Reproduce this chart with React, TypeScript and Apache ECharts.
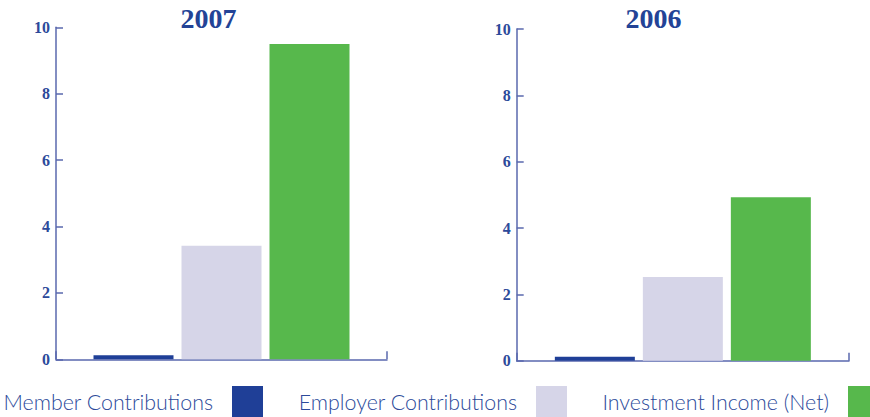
import React, { useEffect, useRef } from "react";
import * as echarts from "echarts";

const seriesNames = ["Member Contributions", "Employer Contributions", "Investment Income (Net)"];
const years = ["2007", "2006"];
const values2007 = [0.12, 3.42, 9.5];
const values2006 = [0.12, 2.52, 4.93];
const yMin = 0;
const yMax = 10;
const yInterval = 2;
const barColors = ["#1f3f97", "#d6d5e8", "#57b84c"];

const textBlue = "#2c4a9a";
const axisBlue = "#5a68ae";

export default function App() {
  const ref = useRef<HTMLDivElement>(null);
  useEffect(() => {
    if (!ref.current) return;
    const chart = echarts.init(ref.current, undefined, { renderer: "svg" });
    const grids = [
      { left: 56, top: 27.3, width: 331, height: 332 },
      { left: 516.7, top: 29, width: 332.3, height: 331.7 },
    ];
    const xAxes = grids.map((_, i) => ({
      type: "category",
      gridIndex: i,
      data: [""],
      axisLine: { show: true, lineStyle: { color: axisBlue, width: 1.5 } },
      axisTick: { show: true, inside: true, length: 8, lineStyle: { color: axisBlue, width: 1.5 } },
      axisLabel: { show: false },
      splitLine: { show: false },
    }));
    const yAxes = grids.map((_, i) => ({
      type: "value",
      gridIndex: i,
      min: yMin,
      max: yMax,
      interval: yInterval,
      axisLine: { show: true, lineStyle: { color: axisBlue, width: 1.5 } },
      axisTick: { show: true, inside: true, length: 7, lineStyle: { color: axisBlue, width: 1.5 } },
      splitLine: { show: false },
      axisLabel: {
        color: textBlue,
        fontFamily: "Liberation Serif",
        fontWeight: "bold",
        fontSize: 16,
        margin: 6,
      },
    }));
    const allValues = [values2007, values2006];
    const series: any[] = [];
    allValues.forEach((vals, gi) => {
      seriesNames.forEach((name, si) => {
        series.push({
          type: "bar",
          name,
          xAxisIndex: gi,
          yAxisIndex: gi,
          data: [vals[si]],
          barWidth: 80,
          barGap: "10%",
          itemStyle: { color: barColors[si] },
          emphasis: { disabled: true },
        });
      });
    });
    const legendRights = [607, 303, -9];
    const legends = seriesNames.map((name, i) => ({
      data: [name],
      right: legendRights[i],
      top: 386,
      padding: 0,
      align: "right",
      icon: "rect",
      itemWidth: 31,
      itemHeight: 31,
      selectedMode: false,
      textStyle: {
        color: textBlue,
        fontFamily: "Lato",
        fontWeight: 300,
        fontSize: 21.4,
        padding: [0, 14, 6, 0],
      },
    }));
    const titleCenters = [208.5, 653.5];
    const titles = years.map((y, i) => ({
      text: y,
      left: titleCenters[i],
      top: 4,
      padding: 0,
      textAlign: "center",
      textStyle: {
        color: "#234396",
        fontFamily: "Liberation Serif",
        fontWeight: "bold",
        fontSize: 28,
      },
    }));
    chart.setOption({
      animation: false,
      backgroundColor: "#ffffff",
      title: titles,
      legend: legends,
      grid: grids,
      xAxis: xAxes,
      yAxis: yAxes,
      series,
    });
    return () => chart.dispose();
  }, []);
  return (
    <div
      ref={ref}
      style={{ position: "fixed", left: 0, top: 0, width: 870, height: 417 }}
    />
  );
}
